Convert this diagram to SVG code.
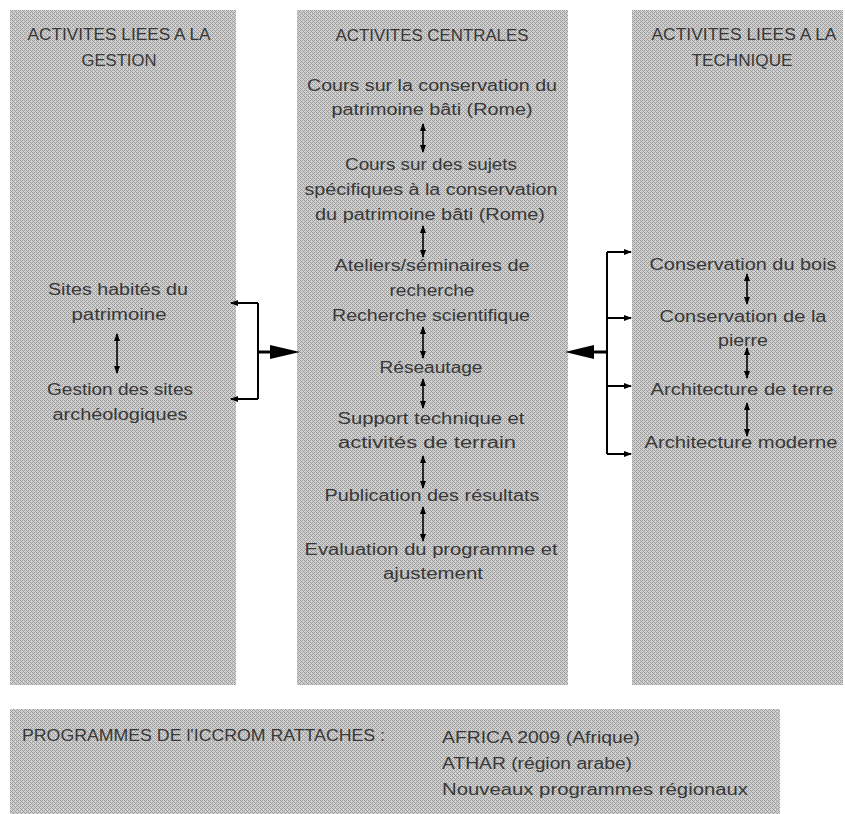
<svg xmlns="http://www.w3.org/2000/svg" width="845" height="814" viewBox="0 0 845 814">
<defs>
<pattern id="ht" width="4" height="4" patternUnits="userSpaceOnUse">
<rect width="4" height="4" fill="#d0d0d0"/>
<rect x="0" y="0" width="1" height="1" fill="#a0a0a0"/>
<rect x="2" y="0" width="1" height="1" fill="#a0a0a0"/>
<rect x="1" y="1" width="1" height="1" fill="#989898"/>
<rect x="0" y="2" width="1" height="1" fill="#a0a0a0"/>
<rect x="2" y="2" width="1" height="1" fill="#a0a0a0"/>
<rect x="3" y="3" width="1" height="1" fill="#989898"/>
<rect x="3" y="1" width="1" height="1" fill="#d6d6b8"/>
</pattern>
<marker id="sa" viewBox="0 0 8 8" refX="7" refY="4" markerWidth="8" markerHeight="8" markerUnits="userSpaceOnUse" orient="auto-start-reverse">
<path d="M0,1 L8,4 L0,7 Z" fill="#000"/>
</marker>
</defs>
<style>
.box{fill:url(#ht);}
text{font-family:"Liberation Sans",Arial,sans-serif;font-size:16px;fill:#383838;text-anchor:middle;}
.l{text-anchor:start;}
.dbl{stroke:#000;stroke-width:1.6;fill:none;marker-start:url(#sa);marker-end:url(#sa);}
.br{stroke:#000;stroke-width:2;fill:none;}
.tk{stroke:#000;stroke-width:2;fill:none;marker-end:url(#sa);}
</style>

<g id="col-gestion">
<rect class="box" x="10" y="10" width="226" height="675"/>
<text x="119" y="40" textLength="183" lengthAdjust="spacingAndGlyphs">ACTIVITES LIEES A LA</text>
<text x="119" y="66" textLength="75" lengthAdjust="spacingAndGlyphs">GESTION</text>
</g>
<g id="col-centrales">
<rect class="box" x="297" y="10" width="271" height="675"/>
<text x="432" y="41" textLength="193" lengthAdjust="spacingAndGlyphs">ACTIVITES CENTRALES</text>
</g>
<g id="col-technique">
<rect class="box" x="632" y="10" width="211" height="675"/>
<text x="744" y="40" textLength="185" lengthAdjust="spacingAndGlyphs">ACTIVITES LIEES A LA</text>
<text x="742" y="66" textLength="101" lengthAdjust="spacingAndGlyphs">TECHNIQUE</text>
</g>

<g id="n-sites-habites"><text x="118" y="295" textLength="140" lengthAdjust="spacingAndGlyphs">Sites habités du</text><text x="119" y="320" textLength="95" lengthAdjust="spacingAndGlyphs">patrimoine</text></g>
<g id="n-gestion-sites"><text x="120" y="395" textLength="146" lengthAdjust="spacingAndGlyphs">Gestion des sites</text><text x="120" y="420" textLength="135" lengthAdjust="spacingAndGlyphs">archéologiques</text></g>

<g id="n-cours1"><text x="432" y="91" textLength="250" lengthAdjust="spacingAndGlyphs">Cours sur la conservation du</text><text x="432" y="115" textLength="201" lengthAdjust="spacingAndGlyphs">patrimoine bâti (Rome)</text></g>
<g id="n-cours2"><text x="431" y="170" textLength="172" lengthAdjust="spacingAndGlyphs">Cours sur des sujets</text><text x="431" y="195" textLength="253" lengthAdjust="spacingAndGlyphs">spécifiques à la conservation</text><text x="430" y="220" textLength="230" lengthAdjust="spacingAndGlyphs">du patrimoine bâti (Rome)</text></g>
<g id="n-ateliers"><text x="432" y="271" textLength="195" lengthAdjust="spacingAndGlyphs">Ateliers/séminaires de</text><text x="432" y="296" textLength="85" lengthAdjust="spacingAndGlyphs">recherche</text><text x="431" y="321" textLength="198" lengthAdjust="spacingAndGlyphs">Recherche scientifique</text></g>
<g id="n-reseautage"><text x="431" y="373" textLength="103" lengthAdjust="spacingAndGlyphs">Réseautage</text></g>
<g id="n-support"><text x="431" y="424" textLength="187" lengthAdjust="spacingAndGlyphs">Support technique et</text><text x="427" y="448" textLength="178" lengthAdjust="spacingAndGlyphs">activités de terrain</text></g>
<g id="n-publication"><text x="432" y="501" textLength="215" lengthAdjust="spacingAndGlyphs">Publication des résultats</text></g>
<g id="n-evaluation"><text x="431" y="555" textLength="253" lengthAdjust="spacingAndGlyphs">Evaluation du programme et</text><text x="433" y="579" textLength="100" lengthAdjust="spacingAndGlyphs">ajustement</text></g>

<g id="n-bois"><text x="743" y="270" textLength="187" lengthAdjust="spacingAndGlyphs">Conservation du bois</text></g>
<g id="n-pierre"><text x="743" y="322" textLength="167" lengthAdjust="spacingAndGlyphs">Conservation de la</text><text x="743" y="346" textLength="50" lengthAdjust="spacingAndGlyphs">pierre</text></g>
<g id="n-terre"><text x="742" y="395" textLength="183" lengthAdjust="spacingAndGlyphs">Architecture de terre</text></g>
<g id="n-moderne"><text x="741" y="448" textLength="193" lengthAdjust="spacingAndGlyphs">Architecture moderne</text></g>

<g id="n-programmes">
<rect class="box" x="10" y="709" width="770" height="105"/>
<text class="l" x="22" y="741" textLength="363" lengthAdjust="spacingAndGlyphs">PROGRAMMES DE l'ICCROM RATTACHES :</text>
<text class="l" x="442" y="743" textLength="198" lengthAdjust="spacingAndGlyphs">AFRICA 2009 (Afrique)</text>
<text class="l" x="442" y="769" textLength="190" lengthAdjust="spacingAndGlyphs">ATHAR (région arabe)</text>
<text class="l" x="442" y="795" textLength="306" lengthAdjust="spacingAndGlyphs">Nouveaux programmes régionaux</text>
</g>

<g id="connectors">
<line class="dbl" x1="423" y1="124" x2="423" y2="152"/>
<line class="dbl" x1="423" y1="226" x2="423" y2="257"/>
<line class="dbl" x1="423" y1="327" x2="423" y2="358"/>
<line class="dbl" x1="423" y1="379" x2="423" y2="408"/>
<line class="dbl" x1="423" y1="456" x2="423" y2="488"/>
<line class="dbl" x1="423" y1="507" x2="423" y2="541"/>
<line class="dbl" x1="117" y1="334" x2="117" y2="373"/>
<line class="dbl" x1="747" y1="274" x2="747" y2="304"/>
<line class="dbl" x1="747" y1="348" x2="747" y2="378"/>
<line class="dbl" x1="747" y1="403" x2="747" y2="436"/>
<line class="br" x1="258" y1="303" x2="258" y2="399"/>
<line class="tk" x1="258" y1="303" x2="231" y2="303"/>
<line class="tk" x1="258" y1="399" x2="231" y2="399"/>
<line stroke="#000" stroke-width="3" x1="258" y1="352" x2="275" y2="352"/>
<path d="M270,345 L300,352 L270,359 Z" fill="#000"/>
<line class="br" x1="607" y1="252" x2="607" y2="454"/>
<line class="tk" x1="607" y1="252" x2="631" y2="252"/>
<line class="tk" x1="607" y1="318" x2="631" y2="318"/>
<line class="tk" x1="607" y1="386" x2="631" y2="386"/>
<line class="tk" x1="607" y1="454" x2="631" y2="454"/>
<line stroke="#000" stroke-width="3" x1="607" y1="352" x2="588" y2="352"/>
<path d="M594,345 L565,352 L594,359 Z" fill="#000"/>
</g>
</svg>
